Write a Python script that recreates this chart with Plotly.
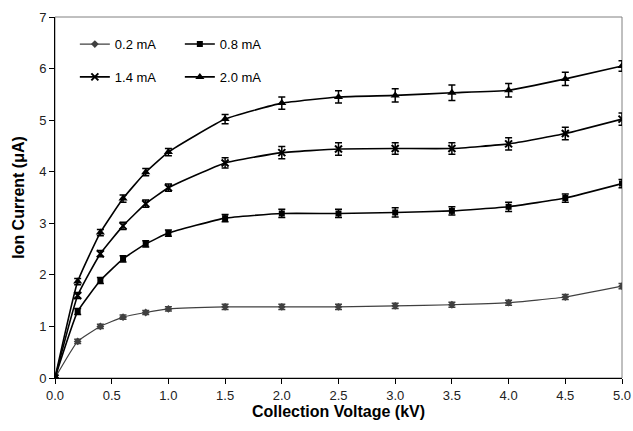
import plotly.graph_objects as go

voltage_kv = [0.0, 0.2, 0.4, 0.6, 0.8, 1.0, 1.5, 2.0, 2.5, 3.0, 3.5, 4.0, 4.5, 5.0]

current_02 = [0.0, 0.71, 1.00, 1.18, 1.27, 1.34, 1.38, 1.38, 1.38, 1.40, 1.42, 1.46, 1.57, 1.78]
err_02 = [0.0, 0.04, 0.04, 0.04, 0.04, 0.04, 0.05, 0.05, 0.05, 0.05, 0.05, 0.05, 0.05, 0.05]

current_08 = [0.0, 1.29, 1.89, 2.31, 2.60, 2.81, 3.10, 3.19, 3.19, 3.21, 3.24, 3.32, 3.49, 3.77]
err_08 = [0.0, 0.06, 0.06, 0.06, 0.06, 0.06, 0.07, 0.08, 0.08, 0.09, 0.08, 0.09, 0.08, 0.08]

current_14 = [0.0, 1.60, 2.41, 2.95, 3.38, 3.69, 4.17, 4.37, 4.44, 4.45, 4.45, 4.54, 4.74, 5.02]
err_14 = [0.0, 0.06, 0.06, 0.07, 0.07, 0.07, 0.10, 0.12, 0.12, 0.11, 0.11, 0.12, 0.12, 0.12]

current_20 = [0.0, 1.87, 2.82, 3.48, 3.99, 4.38, 5.02, 5.33, 5.45, 5.48, 5.53, 5.58, 5.80, 6.05]
err_20 = [0.0, 0.06, 0.06, 0.07, 0.07, 0.07, 0.09, 0.12, 0.12, 0.13, 0.15, 0.13, 0.13, 0.10]

series_names = ["0.2 mA", "0.8 mA", "1.4 mA", "2.0 mA"]
x_ticks = [0.0, 0.5, 1.0, 1.5, 2.0, 2.5, 3.0, 3.5, 4.0, 4.5, 5.0]
x_tick_labels = ["0.0", "0.5", "1.0", "1.5", "2.0", "2.5", "3.0", "3.5", "4.0", "4.5", "5.0"]
y_ticks = [0, 1, 2, 3, 4, 5, 6, 7]

FONT = "Liberation Sans, Arial, sans-serif"

fig = go.Figure()

specs = [
    (current_02, err_02, series_names[0], "diamond", 6, "#404040", 1.2, "legend"),
    (current_08, err_08, series_names[1], "square", 6, "#000000", 1.6, "legend"),
    (current_14, err_14, series_names[2], "x-thin", 7, "#000000", 1.6, "legend2"),
    (current_20, err_20, series_names[3], "triangle-up", 8, "#000000", 1.6, "legend2"),
]

for ys, es, name, sym, size, color, lw, leg in specs:
    marker = dict(symbol=sym, size=size, color=color)
    if sym == "x-thin":
        marker["line"] = dict(color=color, width=2)
    fig.add_trace(go.Scatter(
        x=voltage_kv, y=ys, name=name, mode="lines+markers",
        line=dict(color=color, width=lw, shape="spline", smoothing=0.4),
        marker=marker,
        error_y=dict(type="data", array=es, visible=True, color=color, thickness=1.5, width=3.5),
        legend=leg,
    ))

fig.add_shape(type="rect", xref="x domain", yref="y domain", x0=0, x1=1, y0=0, y1=1,
              line=dict(color="#808080", width=1), layer="below")

legend_common = dict(orientation="h", bgcolor="rgba(0,0,0,0)",
                     font=dict(family=FONT, size=13, color="#000000"),
                     entrywidth=60, entrywidthmode="pixels", itemwidth=30,
                     xanchor="left", yanchor="middle", tracegroupgap=0)

fig.update_layout(
    width=633, height=431,
    margin=dict(l=55, r=11, t=17, b=53),
    paper_bgcolor="white", plot_bgcolor="white",
    font=dict(family=FONT, size=13, color="#000000"),
    showlegend=True,
    legend=dict(x=0.035, y=0.925, **legend_common),
    legend2=dict(x=0.035, y=0.834, **legend_common),
    xaxis=dict(
        range=[0, 5], tickmode="array", tickvals=x_ticks, ticktext=x_tick_labels,
        ticks="outside", ticklen=5, tickcolor="#000000", showline=True, linecolor="#000000",
        linewidth=1, showgrid=False, zeroline=False, automargin=False,
        tickfont=dict(size=13, color="#222222"),
        title=dict(text="<b>Collection Voltage (kV)</b>", font=dict(size=16), standoff=4),
    ),
    yaxis=dict(
        range=[0, 7], tickmode="array", tickvals=y_ticks,
        ticks="outside", ticklen=5, tickcolor="#000000", showline=True, linecolor="#000000",
        linewidth=1, showgrid=False, zeroline=False, automargin=False,
        tickfont=dict(size=13, color="#222222"),
        title=dict(text="<b>Ion Current (μA)</b>", font=dict(size=16), standoff=10),
    ),
)

fig.write_html("out.html", config={"displayModeBar": False},
               post_script="document.body.style.margin='0';")
